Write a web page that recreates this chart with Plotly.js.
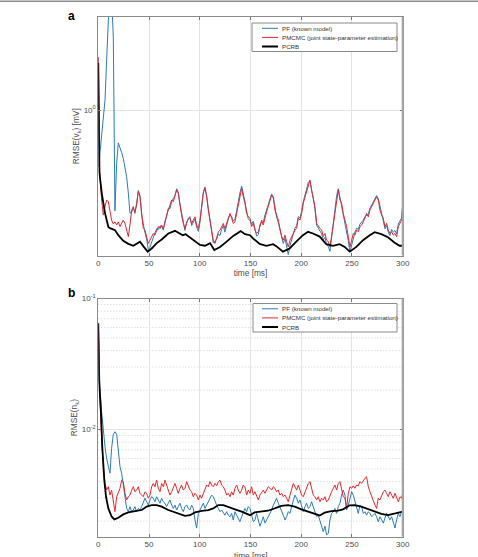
<!DOCTYPE html>
<html><head><meta charset="utf-8">
<script src="https://cdn.plot.ly/plotly-3.0.1.min.js"></script>
<style>html,body{margin:0;padding:0;background:#fff}#chart{width:478px;height:557px}</style>
</head><body><div id="chart"></div>
<script>
// ---------- data ----------
const seriesNames = ['PF (known model)', 'PMCMC (joint state-parameter estimation)', 'PCRB'];
const xTicks = [0, 50, 100, 150, 200, 250, 300];
const xTitle = 'time [ms]';

// common time grid of the noisy RMSE traces [ms]
const tNoisy = [0, 0.8, 1.6, 3.3, 4.9, 6.6, 8.2, 9.9, 11.5, 13.1, 14.8, 16.4, 18.1, 19.7, 21.4, 23.0, 24.6, 26.3, 27.9, 29.6,
 31.2, 32.9, 34.5, 36.1, 37.8, 39.4, 41.1, 42.7, 44.3, 46.0, 47.6, 49.3, 50.9, 52.6, 54.2, 55.8, 57.5, 59.1, 60.8, 62.4,
 64.1, 65.7, 67.3, 69.0, 70.6, 72.3, 73.9, 75.6, 77.2, 78.8, 80.5, 82.1, 83.8, 85.4, 87.1, 88.7, 90.3, 92.0, 93.6, 95.3,
 96.9, 98.6, 100.2, 101.8, 103.5, 105.1, 106.8, 108.4, 110.0, 111.7, 113.3, 115.0, 116.6, 118.3, 119.9, 121.5, 123.2, 124.8, 126.5, 128.1,
 129.8, 131.4, 133.0, 134.7, 136.3, 138.0, 139.6, 141.3, 142.9, 144.5, 146.2, 147.8, 149.5, 151.1, 152.8, 154.4, 156.0, 157.7, 159.3, 161.0,
 162.6, 164.3, 165.9, 167.5, 169.2, 170.8, 172.5, 174.1, 175.7, 177.4, 179.0, 180.7, 182.3, 184.0, 185.6, 187.2, 188.9, 190.5, 192.2, 193.8,
 195.5, 197.1, 198.7, 200.4, 202.0, 203.7, 205.3, 207.0, 208.6, 210.2, 211.9, 213.5, 215.2, 216.8, 218.5, 220.1, 221.7, 223.4, 225.0, 226.7,
 228.3, 229.9, 231.6, 233.2, 234.9, 236.5, 238.2, 239.8, 241.4, 243.1, 244.7, 246.4, 248.0, 249.7, 251.3, 252.9, 254.6, 256.2, 257.9, 259.5,
 261.2, 262.8, 264.4, 266.1, 267.7, 269.4, 271.0, 272.7, 274.3, 275.9, 277.6, 279.2, 280.9, 282.5, 284.2, 285.8, 287.4, 289.1, 290.7, 292.4,
 294.0, 295.7, 297.3, 298.9, 300.0];

// panel a: RMSE(v_k) [mV]
const pfA = [1.66, 0.58, 0.66, 0.774, 0.95, 1.10, 1.6, 2.44, 3.4, 3.0, 2.0, 0.38, 0.60, 0.73, 0.70, 0.665, 0.63, 0.58, 0.527, 0.451,
 0.372, 0.375,
 0.39, 0.378, 0.402, 0.462, 0.44, 0.365, 0.33, 0.309, 0.29, 0.262, 0.268, 0.283, 0.299, 0.308, 0.32, 0.318, 0.329, 0.327, 0.316, 0.345,
 0.36, 0.39, 0.388, 0.415, 0.428, 0.44, 0.47, 0.455, 0.405, 0.372, 0.33, 0.315, 0.343, 0.35, 0.36, 0.33, 0.343, 0.352, 0.325, 0.312,
 0.34, 0.404, 0.456, 0.478, 0.44, 0.39, 0.34, 0.312, 0.28, 0.285, 0.29, 0.304, 0.3, 0.318, 0.33, 0.31, 0.333, 0.352, 0.366, 0.36,
 0.345, 0.35, 0.38, 0.418, 0.452, 0.482, 0.45, 0.415, 0.378, 0.352, 0.346,
 0.335, 0.344, 0.322, 0.298, 0.303, 0.333, 0.341, 0.34, 0.366, 0.384, 0.405, 0.43, 0.447, 0.435, 0.39, 0.358, 0.34, 0.315, 0.29, 0.278,
 0.292, 0.268, 0.25, 0.272, 0.29, 0.31, 0.322, 0.33, 0.36, 0.355, 0.378, 0.415, 0.44, 0.468, 0.5, 0.505, 0.47, 0.428, 0.388, 0.33,
 0.322, 0.315, 0.305, 0.288, 0.295, 0.275, 0.27, 0.258, 0.29, 0.345, 0.39, 0.44, 0.47, 0.43, 0.4, 0.364, 0.34, 0.318, 0.285, 0.256,
 0.275, 0.298, 0.31, 0.322, 0.318, 0.335, 0.34, 0.348, 0.36, 0.365, 0.368, 0.39, 0.402, 0.416, 0.43, 0.44, 0.428, 0.39, 0.372, 0.345,
 0.32, 0.33, 0.31, 0.3, 0.318, 0.31, 0.315, 0.305, 0.335, 0.345, 0.355, 0.4];
const pmcmcA = [1.66, 0.58, 0.527,
 0.422, 0.365, 0.396, 0.422, 0.415, 0.371, 0.348, 0.335, 0.342, 0.332,
 0.342, 0.327, 0.337, 0.348, 0.337, 0.316, 0.297, 0.332, 0.383, 0.396,
 0.371, 0.409, 0.457, 0.435, 0.371, 0.321, 0.316, 0.297, 0.278, 0.287,
 0.297, 0.306, 0.301, 0.316, 0.327, 0.321, 0.332, 0.321, 0.337, 0.365,
 0.383, 0.396, 0.422, 0.415, 0.435, 0.464, 0.450, 0.396, 0.365, 0.337,
 0.321, 0.337, 0.354, 0.354, 0.337, 0.348, 0.359, 0.332, 0.321, 0.348,
 0.396, 0.450, 0.472, 0.435, 0.383, 0.348, 0.321, 0.287, 0.278, 0.297,
 0.311, 0.316, 0.327, 0.337, 0.321, 0.337, 0.359, 0.371, 0.354, 0.337,
 0.342, 0.371, 0.409, 0.442, 0.472, 0.435, 0.409, 0.371, 0.359, 0.354,
 0.327, 0.337, 0.316, 0.306, 0.311, 0.327, 0.348, 0.332, 0.359, 0.377,
 0.396, 0.422, 0.442, 0.429, 0.383, 0.365, 0.348, 0.321, 0.297, 0.287,
 0.301, 0.283, 0.269, 0.287, 0.297, 0.306, 0.316, 0.321, 0.354, 0.348,
 0.371, 0.409, 0.435, 0.464, 0.495, 0.511, 0.464, 0.422, 0.396, 0.337,
 0.327, 0.321, 0.316, 0.297, 0.306, 0.287, 0.283, 0.269, 0.297, 0.337,
 0.383, 0.435, 0.464, 0.422, 0.409, 0.371, 0.348, 0.327, 0.297, 0.269,
 0.287, 0.306, 0.301, 0.316, 0.311, 0.327, 0.332, 0.342, 0.354, 0.371,
 0.359, 0.383, 0.396, 0.409, 0.422, 0.435, 0.422, 0.383, 0.365, 0.354,
 0.327, 0.337, 0.316, 0.306, 0.311, 0.301, 0.306, 0.297, 0.327, 0.337,
 0.348, 0.409];
const tPcrbA = [0, 1, 3.4, 6.6, 9.9, 11.5, 16.5, 19.7, 24.6, 29.6, 34.5, 37.8, 41.1, 44.3, 48.7, 52.6, 57.6, 62.5, 69.0, 75.6,
 79.5, 83.2, 86.1, 90.4, 95.3, 100.2, 105.2, 110.1, 114.3, 120.0, 126.5, 133.0, 140.3, 144.6, 149.5, 152.5, 159.0, 165.6, 172.2, 175.4,
 182.0, 188.6, 195.1, 201.7, 206.7, 211.6, 218.2, 224.7, 231.3, 237.9, 242.8, 247.8, 254.3, 260.9, 267.5, 272.4, 278.9, 285.5, 292.1, 297.0, 300];
const pcrbA = [1.57, 0.553, 0.451, 0.372, 0.326, 0.322, 0.316, 0.301, 0.285, 0.277, 0.272, 0.277, 0.283, 0.271, 0.257, 0.265, 0.279, 0.289, 0.306, 0.314,
 0.306, 0.301, 0.304, 0.295, 0.283, 0.274, 0.272, 0.279, 0.261, 0.269, 0.283, 0.299, 0.313, 0.304, 0.301, 0.292, 0.277, 0.272, 0.276, 0.271,
 0.257, 0.265, 0.283, 0.301, 0.311, 0.306, 0.297, 0.276, 0.272, 0.276, 0.269, 0.257, 0.269, 0.287, 0.301, 0.310, 0.304, 0.295, 0.280, 0.272, 0.272];

// panel b: RMSE(n_k)
const pfB = [0.0647, 0.030, 0.021, 0.0135, 0.0095, 0.0074, 0.006, 0.0052, 0.00464, 0.00718, 0.0092, 0.00962, 0.0092, 0.00698, 0.0052, 0.00464, 0.00366, 0.0029, 0.0025, 0.00236,
 0.00258, 0.00236,
 0.00243, 0.00258, 0.00236, 0.0025, 0.00243, 0.00258, 0.00274, 0.00299, 0.00281, 0.00265,
 0.0029, 0.00307, 0.00299, 0.00281, 0.00307, 0.0029, 0.00274, 0.00299, 0.00281, 0.00274,
 0.00258, 0.00274, 0.0029, 0.00265, 0.0025, 0.00265, 0.00243, 0.00258, 0.00274, 0.0025,
 0.00236, 0.00258, 0.00265, 0.0025, 0.00243, 0.00265, 0.0025, 0.00204, 0.00177, 0.00229,
 0.00243, 0.00258, 0.00274, 0.0025, 0.00265, 0.00281, 0.00299, 0.00316, 0.00307, 0.00281,
 0.00265, 0.0025, 0.00236, 0.00243, 0.00229, 0.00222, 0.00236, 0.00222, 0.00216, 0.00229,
 0.00204, 0.00236, 0.00222, 0.00211, 0.00198, 0.00216, 0.00229, 0.0025, 0.00236, 0.00258, 0.0025,
 0.00216, 0.00198, 0.00204, 0.00229, 0.00204, 0.00183, 0.00198, 0.00216, 0.00193, 0.00204,
 0.00211, 0.00229, 0.00243, 0.00265, 0.00281, 0.00299, 0.00274, 0.00258, 0.00236, 0.00222,
 0.00204, 0.00216, 0.00236, 0.00229, 0.00258, 0.0029, 0.00316, 0.00299, 0.00274, 0.0029,
 0.00258, 0.00236, 0.00258, 0.00274, 0.0025, 0.00258, 0.00281, 0.00258, 0.00236, 0.00216,
 0.00222, 0.00198, 0.00177, 0.00166, 0.00183, 0.00157, 0.00161, 0.00204, 0.00229, 0.00236,
 0.0025, 0.00229, 0.00258, 0.00274, 0.00316, 0.00345, 0.00316, 0.00243, 0.00265, 0.00299,
 0.00335, 0.00316, 0.00281, 0.0025, 0.00229, 0.00265, 0.00258, 0.00229, 0.00236, 0.00222,
 0.00236, 0.00229, 0.00216, 0.00222, 0.00229, 0.00216, 0.00198, 0.00216, 0.00204, 0.00193,
 0.00211, 0.00229, 0.00216, 0.00204, 0.00216, 0.00193, 0.00177, 0.00204, 0.00229, 0.00216,
 0.00236, 0.00229];
const pmcmcB = [0.0647, 0.026, 0.017, 0.0085, 0.0052, 0.0039, 0.00345, 0.00366, 0.00316, 0.00345, 0.00274, 0.00236, 0.00307, 0.00326, 0.00356, 0.00411, 0.004, 0.00326, 0.0029, 0.00307,
 0.00316, 0.00345,
 0.00366, 0.00335, 0.00345, 0.00366, 0.00326, 0.00316, 0.00307, 0.00335, 0.00326, 0.00299,
 0.00316, 0.00366, 0.00388, 0.00366, 0.00411, 0.00356, 0.00335, 0.00388, 0.00366, 0.00411,
 0.00377, 0.00345, 0.00316, 0.00335, 0.00366, 0.00388, 0.00356, 0.00326, 0.00356, 0.00377,
 0.00345, 0.00356, 0.004, 0.00366, 0.00345, 0.00335, 0.00307, 0.00326, 0.00316, 0.0029,
 0.00316, 0.00299, 0.00326, 0.00345, 0.00377, 0.00366, 0.004, 0.00377, 0.00366, 0.00388,
 0.00372, 0.004, 0.00411, 0.00377, 0.00366, 0.00345, 0.00316, 0.00326, 0.00307, 0.00335,
 0.00316, 0.00356, 0.00377, 0.00345, 0.00326, 0.00345, 0.00377, 0.00366, 0.00316, 0.00345, 0.00326,
 0.00366, 0.00316, 0.00335, 0.00307, 0.0029, 0.00316, 0.00335, 0.00345, 0.00326, 0.00345,
 0.00366, 0.00356, 0.00345, 0.00366, 0.00356, 0.00335, 0.00345, 0.00316, 0.00326, 0.00307,
 0.00316, 0.00299, 0.00281, 0.00316, 0.00345, 0.00388, 0.00366, 0.00345, 0.00377, 0.00345,
 0.00316, 0.00307, 0.00335, 0.00356, 0.00388, 0.004, 0.00356, 0.00316, 0.00307, 0.0029,
 0.00307, 0.00281, 0.00299, 0.0029, 0.00307, 0.00281, 0.0029, 0.00316, 0.00335, 0.00356,
 0.00377, 0.00345, 0.00388, 0.004, 0.00345, 0.00307, 0.00299, 0.0025, 0.00326, 0.00366,
 0.00356, 0.00372, 0.00356, 0.00377, 0.00372, 0.004, 0.00388, 0.00411, 0.00424, 0.00436,
 0.00366, 0.00335, 0.00307, 0.00281, 0.00265, 0.0025, 0.00299, 0.0029, 0.00316, 0.00335,
 0.00345, 0.00326, 0.00307, 0.00335, 0.00316, 0.00299, 0.00326, 0.00299, 0.00281, 0.00307,
 0.00299, 0.00326];
const tPcrbB = [0, 0.7, 2.7, 3.9, 5.9, 7.6, 9.9, 13.2, 15.8, 19.7, 24.6, 29.6, 36.2, 42.8, 47.7, 52.6, 57.6, 62.5, 69.0, 77.3,
 85.4, 90.4, 95.3, 101.9, 108.4, 113.3, 118.3, 123.2, 128.1, 134.7, 141.3, 149.5, 154.1, 160.6, 167.2, 173.8, 180.3, 187.0, 193.6, 200.1,
 206.7, 213.3, 218.2, 223.1, 229.6, 236.2, 241.2, 247.8, 252.7, 259.2, 265.8, 272.4, 278.9, 285.5, 292.1, 300];
const pcrbB = [0.0647, 0.0239, 0.0133, 0.0074, 0.00411, 0.00307, 0.0025, 0.00216, 0.00206, 0.00212, 0.00225, 0.00233, 0.00238, 0.00243, 0.00258, 0.00265, 0.00265, 0.00258, 0.00243, 0.00229,
 0.00219, 0.00222, 0.00233, 0.00239, 0.00243, 0.0025, 0.00265, 0.00265, 0.00258, 0.00246, 0.00236, 0.00222, 0.00233, 0.00238, 0.0024, 0.0025, 0.00261, 0.00265, 0.00258, 0.00246,
 0.00236, 0.00227, 0.00221, 0.00232, 0.00238, 0.0024, 0.00246, 0.00264, 0.00265, 0.00258, 0.00246, 0.00236, 0.00227, 0.00222, 0.00229, 0.00236];

const minorGridB = [0.002, 0.003, 0.004, 0.005, 0.006, 0.007, 0.008, 0.009, 0.02, 0.03, 0.04, 0.05, 0.06, 0.07, 0.08, 0.09];

// ---------- styling ----------
const W = 478, H = 557;
const FONT = 'Liberation Sans, Arial, Helvetica, sans-serif';
const cBlue = '#2b7bba', cRed = '#e8262b', cBlack = '#000000';
const px = v => v / W, py = v => 1 - v / H;

function trace(x, y, name, color, width, xa, ya) {
  return {x: x, y: y, name: name, type: 'scatter', mode: 'lines',
          line: {color: color, width: width}, xaxis: xa, yaxis: ya, showlegend: false,
          hoverinfo: 'skip'};
}
const data = [
  trace(tNoisy, pfA, seriesNames[0], cBlue, 1, 'x', 'y'),
  trace(tNoisy, pmcmcA, seriesNames[1], cRed, 1, 'x', 'y'),
  trace(tPcrbA, pcrbA, seriesNames[2], cBlack, 1.8, 'x', 'y'),
  trace(tNoisy, pfB, seriesNames[0], cBlue, 1, 'x2', 'y2'),
  trace(tNoisy, pmcmcB, seriesNames[1], cRed, 1, 'x2', 'y2'),
  trace(tPcrbB, pcrbB, seriesNames[2], cBlack, 1.8, 'x2', 'y2')
];

const tickFont = {family: FONT, size: 8, color: '#4d4d4d'};
const titleFont = {family: FONT, size: 8.3, color: '#4d4d4d'};
function xaxis(anchor, withTitle) {
  const ax = {domain: [px(98.3), px(402.7)], range: [0, 300], anchor: anchor,
    tickvals: xTicks, ticktext: xTicks.map(String), ticks: 'inside', ticklen: 3, tickcolor: '#777',
    showline: true, linecolor: '#8a8a8a', linewidth: 1, mirror: 'ticks',
    showgrid: true, gridcolor: '#e3e3e3', gridwidth: 1, zeroline: false, tickfont: tickFont};
  if (withTitle) ax.title = {text: xTitle, font: titleFont, standoff: 2};
  return ax;
}
function yaxis(anchor, domain, range, tv, tt, title) {
  return {domain: domain, type: 'log', range: range, anchor: anchor,
    tickvals: tv, ticktext: tt, ticks: 'inside', ticklen: 3, tickcolor: '#777',
    showline: true, linecolor: '#8a8a8a', linewidth: 1, mirror: 'ticks',
    showgrid: true, gridcolor: '#e3e3e3', gridwidth: 1, zeroline: false,
    tickfont: tickFont, title: {text: title, font: titleFont, standoff: 2}};
}

const shapes = [];
const annotations = [];
// minor dotted grid, panel b
minorGridB.forEach(v => shapes.push({type: 'line', xref: 'x2 domain', yref: 'y2', x0: 0, x1: 1, y0: v, y1: v,
  line: {color: '#cfcfcf', width: 1, dash: '1px,2px'}, layer: 'below'}));
// right edge of each box
[['x domain', 'y domain'], ['x2 domain', 'y2 domain']].forEach(r => shapes.push({type: 'line', xref: r[0], yref: r[1],
  x0: 1, x1: 1, y0: 0, y1: 1, line: {color: '#a6a6a6', width: 2}}));
// figure top rule
shapes.push({type: 'line', xref: 'paper', yref: 'paper', x0: 0, x1: 1, y0: py(1.2), y1: py(1.2), line: {color: '#8c8c8c', width: 1.5}});

// custom legends (boxes, sample lines, labels)
function legend(top, left) {
  const right = 397, bottom = top + 28.5;
  shapes.push({type: 'rect', xref: 'paper', yref: 'paper', x0: px(left), x1: px(right), y0: py(bottom), y1: py(top),
    line: {color: '#8a8a8a', width: 1}, fillcolor: '#ffffff'});
  const colors = [cBlue, cRed, cBlack], widths = [1, 1, 2];
  for (let i = 0; i < 3; i++) {
    const yy = top + 5.3 + i * 9.1;
    shapes.push({type: 'line', xref: 'paper', yref: 'paper', x0: px(262), x1: px(278), y0: py(yy), y1: py(yy),
      line: {color: colors[i], width: widths[i]}});
    annotations.push({xref: 'paper', yref: 'paper', x: px(279.5), y: py(yy), xanchor: 'left', yanchor: 'middle',
      text: seriesNames[i], showarrow: false, font: {family: FONT, size: 6.2, color: '#333'}});
  }
}
legend(23, 252);
legend(303.5, 253);

annotations.push({xref: 'paper', yref: 'paper', x: px(71), y: py(16), text: '<b>a</b>', showarrow: false,
  xanchor: 'center', yanchor: 'middle', font: {family: FONT, size: 12, color: '#000'}});
annotations.push({xref: 'paper', yref: 'paper', x: px(71.5), y: py(292.5), text: '<b>b</b>', showarrow: false,
  xanchor: 'center', yanchor: 'middle', font: {family: FONT, size: 12, color: '#000'}});
// x title of the lower panel (it runs off the bottom edge, as in the original figure)
annotations.push({xref: 'x2 domain', yref: 'paper', x: 0.5, y: py(549.3), text: xTitle, showarrow: false,
  xanchor: 'center', yanchor: 'top', font: titleFont});

const layout = {
  width: W, height: H, margin: {l: 0, r: 0, t: 0, b: 0},
  paper_bgcolor: '#fff', plot_bgcolor: '#fff', showlegend: false,
  font: {family: FONT},
  xaxis: xaxis('y', true),
  yaxis: yaxis('x', [py(255.5), py(17)], [-0.606, 0.3875], [1], ['10<sup>0</sup>'], 'RMSE(v<sub>k</sub>) [mV]'),
  xaxis2: xaxis('y2', false),
  yaxis2: yaxis('x2', [py(536.7), py(298.5)], [-2.818, -1], [0.01, 0.1], ['10<sup>-2</sup>', '10<sup>-1</sup>'], 'RMSE(n<sub>k</sub>)'),
  shapes: shapes, annotations: annotations
};
Plotly.newPlot('chart', data, layout, {displayModeBar: false, staticPlot: true});
</script></body></html>
